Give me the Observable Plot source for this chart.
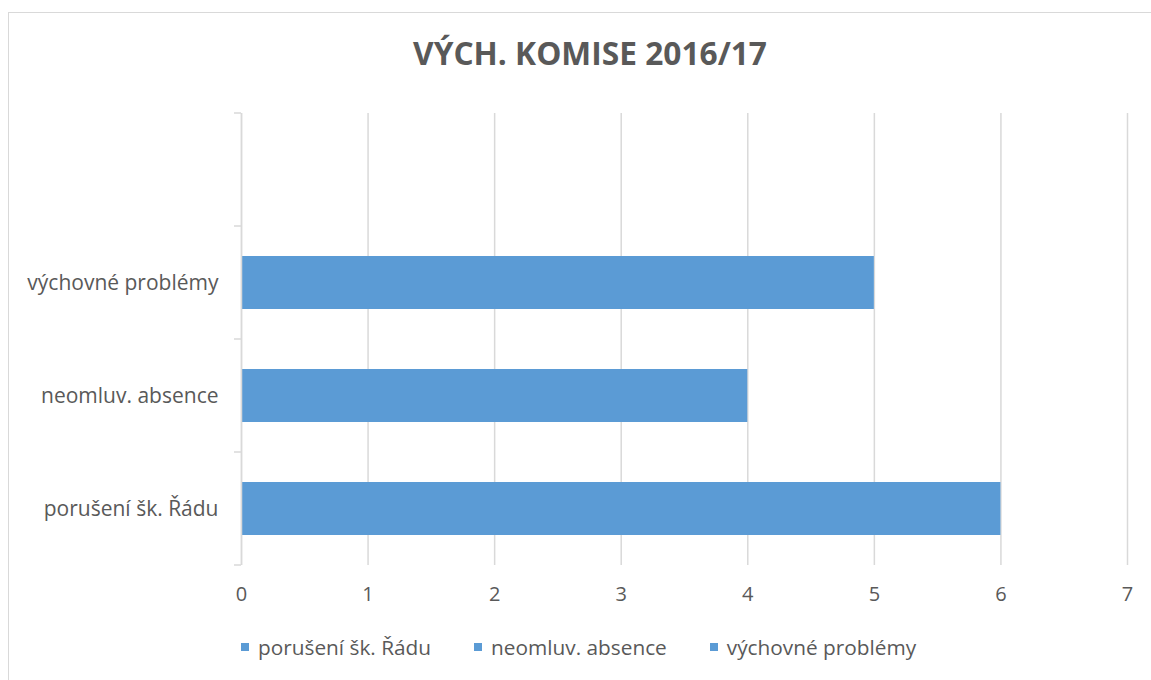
<!DOCTYPE html>
<html><head><meta charset="utf-8">
<script src="https://cdn.jsdelivr.net/npm/d3@7"></script>
<script src="https://cdn.jsdelivr.net/npm/@observablehq/plot@0.6"></script>
<style>
body{margin:0;background:#fff;font-family:"Open Sans",sans-serif;}
#wrap{position:relative;width:1151px;height:680px;overflow:hidden;background:#fff}
#frame{position:absolute;left:8px;top:12px;width:1200px;height:720px;border:1.5px solid #d9d9d9;box-sizing:border-box}
#title{position:absolute;top:34px;left:0;width:1180px;text-align:center;font-weight:700;font-size:31.7px;color:#595959;line-height:1.2}
#chart{position:absolute;left:0;top:0}
#legend{position:absolute;top:632px;left:241px;display:flex;gap:43px;font-size:20.8px;color:#595959;line-height:30px}
#legend .it{display:flex;align-items:center}
#legend .sw{width:8px;height:8px;margin-right:9px;display:inline-block}
</style></head>
<body>
<div id="wrap">
  <div id="frame"></div>
  <div id="title"></div>
  <div id="chart"></div>
  <div id="legend"></div>
</div>
<script>
const title = "VÝCH. KOMISE 2016/17";
const categories = ["porušení šk. Řádu", "neomluv. absence", "výchovné problémy"];
const values = [6, 4, 5];
const emptySlot = "";
const xTicks = [0, 1, 2, 3, 4, 5, 6, 7];
const barColor = "#5B9BD5";
const textColor = "#595959";
const gridColor = "#d9d9d9";

const data = categories.map((c, i) => ({cat: c, value: values[i]}));
const yDomain = [emptySlot, ...categories.slice().reverse()];

document.getElementById("title").textContent = title;

const bandTicks = (index, scales, values, dims) => {
  const y = scales.y;
  const bw = typeof y.bandwidth === "function" ? y.bandwidth() : (dims.height - dims.marginTop - dims.marginBottom) / yDomain.length;
  const ys = yDomain.map(d => y(d)).concat([y(yDomain[yDomain.length - 1]) + bw]);
  const x0 = scales.x(0);
  const g = d3.create("svg:g");
  g.selectAll("line").data(ys).join("line")
    .attr("x1", x0 - 7).attr("x2", x0)
    .attr("y1", d => d).attr("y2", d => d)
    .attr("stroke", gridColor).attr("stroke-width", 1.5);
  return g.node();
};

const chart = Plot.plot({
  width: 1151, height: 620,
  marginLeft: 241, marginRight: 24, marginTop: 113, marginBottom: 55,
  style: {fontFamily: "'Open Sans', sans-serif", background: "transparent"},
  x: {domain: [0, 7], label: null},
  y: {domain: yDomain, padding: 0, label: null},
  marks: [
    Plot.gridX(xTicks, {stroke: gridColor, strokeOpacity: 1, strokeWidth: 1.5}),
    Plot.barX(data, {x: "value", y: "cat", fill: barColor, insetTop: 30, insetBottom: 30, insetLeft: 1}),
    Plot.ruleX([0], {stroke: gridColor, strokeWidth: 1.5}),
    bandTicks,
    Plot.axisX(xTicks, {tickSize: 0, tickPadding: 21, fontSize: 20, color: textColor, tickFormat: d => String(d), label: null}),
    Plot.axisY({tickSize: 0, tickPadding: 23, fontSize: 21, color: textColor, label: null})
  ]
});
document.getElementById("chart").appendChild(chart);

const legend = document.getElementById("legend");
categories.forEach(c => {
  const it = document.createElement("div"); it.className = "it";
  const sw = document.createElement("span"); sw.className = "sw"; sw.style.background = barColor;
  const t = document.createElement("span"); t.textContent = c;
  it.appendChild(sw); it.appendChild(t); legend.appendChild(it);
});
</script>
</body></html>
